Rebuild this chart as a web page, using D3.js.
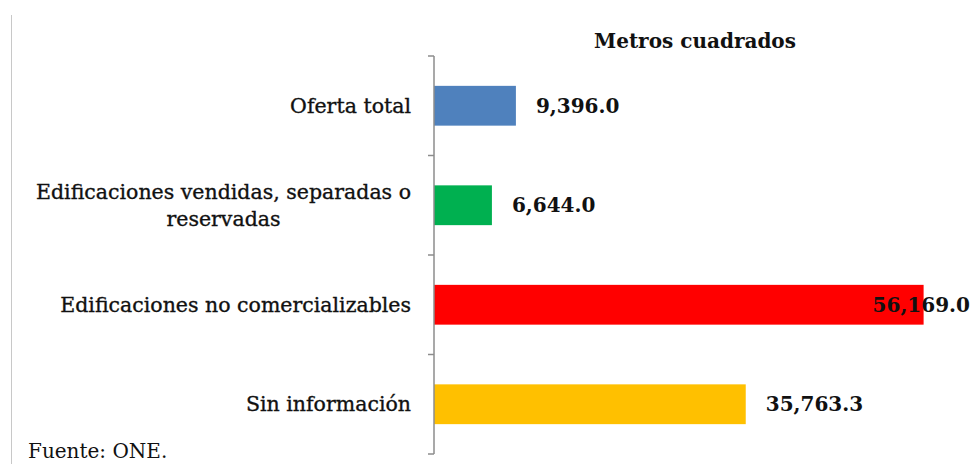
<!DOCTYPE html>
<html>
<head>
<meta charset="utf-8">
<script src="https://cdn.jsdelivr.net/npm/d3@7"></script>
<style>
  body { margin: 0; background: #fff; }
  text { font-family: "DejaVu Serif", serif; fill: #111; }
</style>
</head>
<body>
<div id="chart"></div>
<script>
var categories = ["Oferta total", "Edificaciones vendidas, separadas o|reservadas", "Edificaciones no comercializables", "Sin información"];
var values = [9396.0, 6644.0, 56169.0, 35763.3];
var barColors = ["#4f81bd", "#00b050", "#ff0000", "#ffc000"];
var title = "Metros cuadrados";
var source = "Fuente: ONE.";

var width = 972, height = 464;

var svg = d3.select("#chart").append("svg")
    .attr("width", width)
    .attr("height", height);

var x = d3.scaleLinear().domain([0, 60000]).range([434, 957]);
var y = d3.scaleBand().domain(categories).range([56, 454])
    .paddingInner(0.6).paddingOuter(0.3);

// left frame line
svg.append("line")
    .attr("x1", 11.5).attr("x2", 11.5)
    .attr("y1", 15).attr("y2", height)
    .attr("stroke", "#c8c8c8").attr("stroke-width", 1);

// title
svg.append("text")
    .attr("x", 695).attr("y", 48)
    .attr("text-anchor", "middle")
    .attr("font-size", 20).attr("font-weight", "bold")
    .text(title);

// bars
svg.append("g").selectAll("rect")
    .data(values)
    .enter().append("rect")
    .attr("x", x(0))
    .attr("y", function (d, i) { return y(categories[i]); })
    .attr("width", function (d) { return x(d) - x(0); })
    .attr("height", y.bandwidth())
    .attr("fill", function (d, i) { return barColors[i]; });

// category axis
var step = y.step();
var gap = (step - y.bandwidth()) / 2;
var bounds = categories.map(function (c) { return y(c) - gap; });
bounds.push(y(categories[categories.length - 1]) + y.bandwidth() + gap);

var axis = svg.append("g");
axis.append("line")
    .attr("x1", x(0)).attr("x2", x(0))
    .attr("y1", bounds[0]).attr("y2", bounds[bounds.length - 1])
    .attr("stroke", "#8c8c8c").attr("stroke-width", 1.5);
axis.selectAll(".tick")
    .data(bounds)
    .enter().append("line")
    .attr("x1", x(0) - 6).attr("x2", x(0))
    .attr("y1", function (d) { return d; })
    .attr("y2", function (d) { return d; })
    .attr("stroke", "#8c8c8c").attr("stroke-width", 1.5);

// category labels (right aligned block, lines centred within it)
var labelRight = x(0) - 23;
categories.forEach(function (c) {
    var lines = c.split("|");
    var cy = y(c) + y.bandwidth() / 2;
    var lh = 27;
    var g = svg.append("g");
    var texts = lines.map(function (l, k) {
        return g.append("text")
            .attr("y", cy + (k - (lines.length - 1) / 2) * lh)
            .attr("dy", "0.35em")
            .attr("font-size", 20.5)
            .attr("stroke", "#111").attr("stroke-width", 0.35)
            .attr("text-anchor", "middle")
            .text(l);
    });
    var maxW = d3.max(texts, function (t) { return t.node().getComputedTextLength(); });
    texts.forEach(function (t) { t.attr("x", labelRight - maxW / 2); });
});

// value labels
var fmt = d3.format(",.1f");
svg.append("g").selectAll("text")
    .data(values)
    .enter().append("text")
    .attr("y", function (d, i) { return y(categories[i]) + y.bandwidth() / 2; })
    .attr("dy", "0.35em")
    .attr("font-size", 20).attr("font-weight", "bold")
    .text(function (d) { return fmt(d); })
    .attr("x", function (d) {
        var w = this.getComputedTextLength();
        return Math.min(x(d) + 20, width - w - 2);
    });

// source
svg.append("text")
    .attr("x", 28).attr("y", 458)
    .attr("font-size", 20)
    .text(source);
</script>
</body>
</html>
